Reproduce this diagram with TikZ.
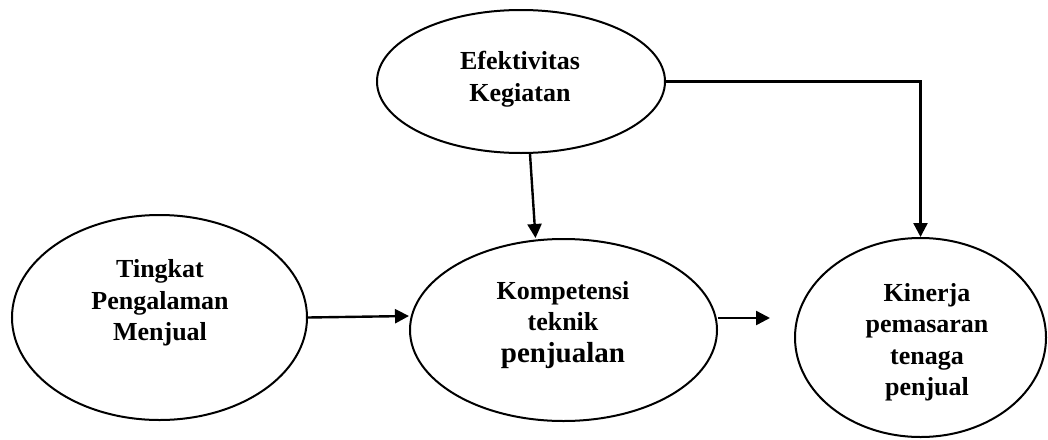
\documentclass[tikz,border=0pt]{standalone}
\usepackage{fontspec}
\setmainfont{Liberation Serif}
\usetikzlibrary{shapes.geometric,arrows.meta}
\tikzset{
  oval/.style={draw, ellipse, line width=2pt, inner sep=0pt},
  lbl/.style={align=center, font=\bfseries\fontsize{26}{31.5}\selectfont, inner sep=0pt},
  arr/.style={line width=2.4pt, -{Triangle[length=14pt,width=14pt]}},
}
\begin{document}
\begin{tikzpicture}[x=1pt,y=-1pt]
\useasboundingbox (0,0) rectangle (1048,439);
\node[oval, minimum width=288pt, minimum height=143pt] (eff) at (521,81.5) {};
\node[oval, minimum width=295pt, minimum height=205pt] (ting) at (159.5,317.5) {};
\node[oval, minimum width=307pt, minimum height=182pt] (komp) at (563.5,330) {};
\node[oval, minimum width=251pt, minimum height=199pt] (kin) at (920.5,337.5) {};
\node[lbl] (efft) at (520,79) {Efektivitas\\Kegiatan};
\node[lbl] (tingt) at (160,303) {Tingkat\\Pengalaman\\Menjual};
\node[lbl] (kompt) at (563,325) {Kompetensi\\teknik\\{\fontsize{29}{31.5}\selectfont penjualan}};
\node[lbl] (kint) at (927,342) {Kinerja\\pemasaran\\tenaga\\penjual};
\coordinate (free) at (770,318);
\draw[arr] ([xshift=9pt]eff.south) -- ([xshift=-28pt]komp.north);
\draw[arr] (eff.east) -| (kin.north);
\draw[arr] (ting.east) -- ([yshift=14pt]komp.west);
\draw[arr] (komp.east |- free) -- (free);
\end{tikzpicture}
\end{document}
